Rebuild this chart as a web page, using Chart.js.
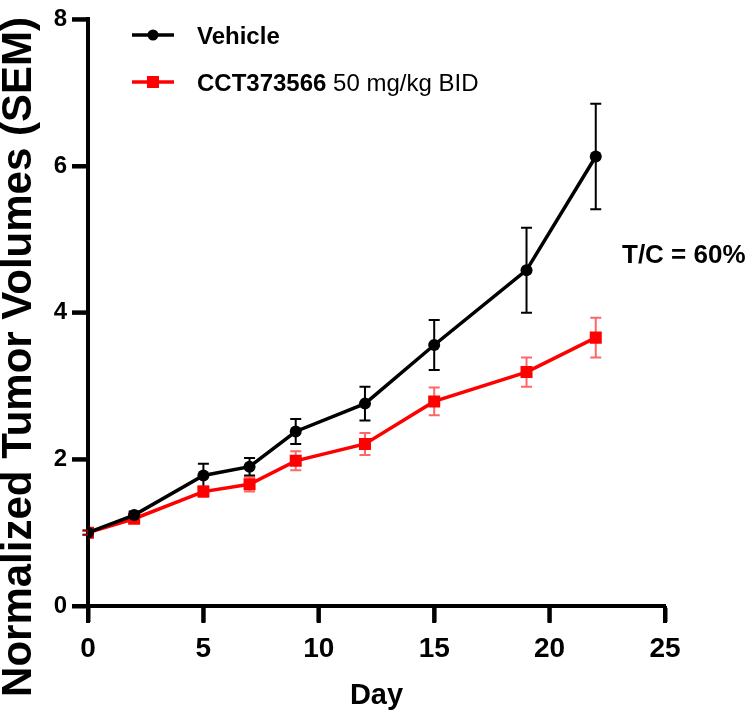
<!DOCTYPE html>
<html>
<head>
<meta charset="utf-8">
<script src="https://cdn.jsdelivr.net/npm/chart.js@4"></script>
<style>
  html, body { margin: 0; padding: 0; background: #fff; }
  #wrap { width: 750px; height: 714px; position: relative; }
</style>
</head>
<body>
<div id="wrap"><canvas id="tumorChart"></canvas></div>
<script>
// data
const days = [0, 2, 5, 7, 9, 12, 15, 19, 22];
const vehicleMean = [1.0, 1.24, 1.78, 1.90, 2.38, 2.76, 3.56, 4.58, 6.13];
const vehicleSem = [0.03, 0.05, 0.16, 0.12, 0.17, 0.23, 0.34, 0.58, 0.72];
const cctMean = [1.0, 1.19, 1.56, 1.66, 1.98, 2.21, 2.79, 3.19, 3.66];
const cctSem = [0.03, 0.04, 0.07, 0.10, 0.13, 0.15, 0.19, 0.20, 0.27];
const xTicks = [0, 5, 10, 15, 20, 25];
const yTicks = [0, 2, 4, 6, 8];

const FONT = '"Liberation Sans", Arial, sans-serif';
Chart.defaults.font.family = FONT;
Chart.defaults.color = '#000';

function toPoints(xs, ys) {
    return xs.map((x, i) => ({ x: x, y: ys[i] }));
}

// SEM error bars, drawn through the chart's own scales
const errorBars = {
    id: 'errorBars',
    beforeDatasetsDraw(chart) {
        const ctx = chart.ctx;
        const xs = chart.scales.x;
        const ys = chart.scales.y;
        chart.data.datasets.forEach((ds) => {
            ctx.save();
            ctx.strokeStyle = ds.errColor;
            ctx.lineWidth = 2;
            ds.data.forEach((p, i) => {
                const e = ds.sem[i];
                const px = xs.getPixelForValue(p.x);
                const top = ys.getPixelForValue(p.y + e);
                const bot = ys.getPixelForValue(p.y - e);
                ctx.beginPath();
                ctx.moveTo(px, top); ctx.lineTo(px, bot);
                ctx.moveTo(px - 5.5, top); ctx.lineTo(px + 5.5, top);
                ctx.moveTo(px - 5.5, bot); ctx.lineTo(px + 5.5, bot);
                ctx.stroke();
            });
            ctx.restore();
        });
    }
};

// outward tick marks on both axes
const axisTicks = {
    id: 'axisTicks',
    afterDraw(chart) {
        const ctx = chart.ctx;
        const xs = chart.scales.x;
        const ys = chart.scales.y;
        const left = xs.getPixelForValue(0);
        const bottom = ys.getPixelForValue(0);
        ctx.save();
        ctx.fillStyle = '#000';
        xTicks.forEach((v) => {
            const px = xs.getPixelForValue(v);
            ctx.fillRect(px - 2, bottom, 4, 17);
        });
        yTicks.forEach((v) => {
            const py = ys.getPixelForValue(v);
            ctx.fillRect(left - 16, py - 2, 16, 4);
        });
        ctx.restore();
    }
};

// legend, y title and the T/C note
const notes = {
    id: 'notes',
    afterDraw(chart) {
        const ctx = chart.ctx;
        ctx.save();
        // Vehicle
        ctx.strokeStyle = '#000';
        ctx.lineWidth = 3.5;
        ctx.beginPath(); ctx.moveTo(132, 35); ctx.lineTo(174, 35); ctx.stroke();
        ctx.fillStyle = '#000';
        ctx.beginPath(); ctx.arc(153, 35, 5.5, 0, Math.PI * 2); ctx.fill();
        // CCT373566
        ctx.strokeStyle = '#ff0000';
        ctx.beginPath(); ctx.moveTo(132, 82); ctx.lineTo(174, 82); ctx.stroke();
        ctx.fillStyle = '#ff0000';
        ctx.fillRect(147, 76, 12, 12);

        ctx.fillStyle = '#000';
        ctx.textBaseline = 'alphabetic';
        ctx.font = 'bold 24px ' + FONT;
        ctx.fillText('Vehicle', 197, 44);
        ctx.fillText('CCT373566', 197, 91);
        const w = ctx.measureText('CCT373566').width;
        ctx.font = '24px ' + FONT;
        ctx.fillText(' 50 mg/kg BID', 197 + w, 91);

        ctx.font = 'bold 26px ' + FONT;
        ctx.fillText('T/C = 60%', 622, 263);

        // y axis title, centred on the whole figure height
        ctx.translate(31, 357);
        ctx.rotate(-Math.PI / 2);
        ctx.textAlign = 'center';
        ctx.font = 'bold 42px ' + FONT;
        ctx.fillText('Normalized Tumor Volumes (SEM)', 0, 0);
        ctx.restore();
    }
};

const chartCtx = document.getElementById('tumorChart').getContext('2d');
new Chart(chartCtx, {
    type: 'scatter',
    data: {
        datasets: [
            {
                label: 'Vehicle',
                data: toPoints(days, vehicleMean),
                sem: vehicleSem,
                errColor: '#000',
                showLine: true,
                borderColor: '#000',
                backgroundColor: '#000',
                borderWidth: 3.5,
                pointStyle: 'circle',
                pointRadius: 6,
                pointBorderWidth: 0
            },
            {
                label: 'CCT373566 50 mg/kg BID',
                data: toPoints(days, cctMean),
                sem: cctSem,
                errColor: 'rgba(255, 0, 0, 0.6)',
                showLine: true,
                borderColor: '#ff0000',
                backgroundColor: '#ff0000',
                borderWidth: 3.5,
                pointStyle: 'rect',
                pointRadius: 8.5,
                pointBorderWidth: 0
            }
        ]
    },
    options: {
        responsive: true,
        maintainAspectRatio: false,
        animation: false,
        layout: {
            padding: { top: 12, right: 85, left: 0, bottom: 0 }
        },
        plugins: {
            legend: { display: false },
            tooltip: { enabled: false }
        },
        scales: {
            x: {
                type: 'linear',
                min: 0,
                max: 25,
                afterFit: (scale) => { scale.height = 108; },
                afterBuildTicks: (scale) => { scale.ticks = xTicks.map(v => ({ value: v })); },
                border: { display: true, color: '#000', width: 4 },
                grid: {
                    drawOnChartArea: false,
                    drawTicks: true,
                    tickLength: 16,
                    tickWidth: 4,
                    tickColor: '#000',
                    color: '#000'
                },
                ticks: {
                    padding: 10,
                    font: { size: 28, weight: 'bold' }
                },
                title: {
                    display: true,
                    text: 'Day',
                    padding: { top: 0, bottom: 1 },
                    font: { size: 29, weight: 'bold' }
                }
            },
            y: {
                min: 0,
                max: 8,
                afterFit: (scale) => { scale.width = 88; },
                afterBuildTicks: (scale) => { scale.ticks = yTicks.map(v => ({ value: v })); },
                border: { display: true, color: '#000', width: 4 },
                grid: {
                    drawOnChartArea: false,
                    drawTicks: true,
                    tickLength: 16,
                    tickWidth: 4,
                    tickColor: '#000',
                    color: '#000'
                },
                ticks: {
                    padding: 5,
                    font: { size: 24, weight: 'bold' }
                },
                title: { display: false }
            }
        }
    },
    plugins: [errorBars, axisTicks, notes]
});
</script>
</body>
</html>
